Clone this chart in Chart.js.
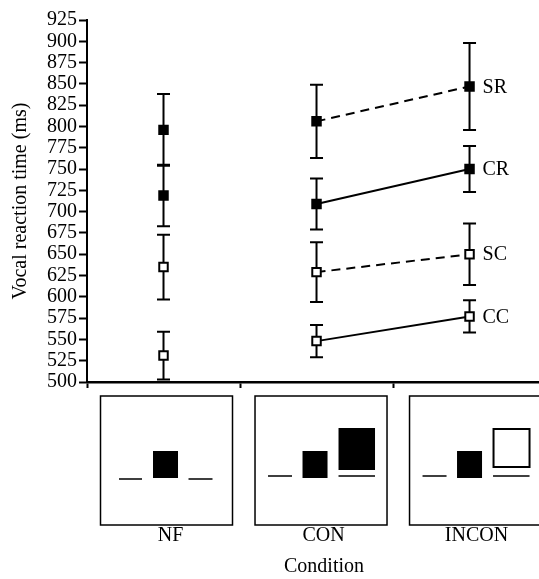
<!DOCTYPE html>
<html><head><meta charset="utf-8">
<script src="https://cdn.jsdelivr.net/npm/chart.js@4.4.0/dist/chart.umd.min.js"></script>
<style>html,body{margin:0;padding:0;background:#fff;} #wrap{width:539px;height:579px;position:relative;}</style>
</head><body><div id="wrap"><canvas id="c" width="539" height="579"></canvas></div>
<script>
// ---- data ----
const conditions = ['NF', 'CON', 'INCON'];
const seriesNames = ['SR', 'CR', 'SC', 'CC'];
const srValues = [796, 806, 847];
const srErrors = [42, 43, 51];
const crValues = [719, 709, 750];
const crErrors = [36, 30, 27];
const scValues = [635, 629, 650];
const scErrors = [38, 35, 36];
const ccValues = [531, 548, 577];
const ccErrors = [28, 19, 19];
const yTickValues = [500, 525, 550, 575, 600, 625, 650, 675, 700, 725, 750, 775, 800, 825, 850, 875, 900, 925];
const xAxisTitle = 'Condition';

const FONT = "'Liberation Serif', 'DejaVu Serif', serif";

function toPoints(vals) { return vals.map((v, i) => ({ x: i + 1, y: v })); }

function makeSet(name, vals, errs, filled, dashed) {
  return {
    label: name,
    data: toPoints(vals),
    errors: errs,
    borderColor: '#000',
    borderWidth: 2,
    borderDash: dashed ? [9, 6] : [],
    backgroundColor: filled ? '#000' : '#fff',
    pointBackgroundColor: filled ? '#000' : '#fff',
    pointBorderColor: '#000',
    pointBorderWidth: 2,
    pointStyle: 'rect',
    pointRadius: 6,
    pointHoverRadius: 6,
    fill: false,
    tension: 0,
    clip: false,
    segment: {
      borderColor: ctx => ctx.p0DataIndex === 0 ? 'rgba(0,0,0,0)' : '#000'
    }
  };
}

const datasets = [
  makeSet(seriesNames[0], srValues, srErrors, true, true),
  makeSet(seriesNames[1], crValues, crErrors, true, false),
  makeSet(seriesNames[2], scValues, scErrors, false, true),
  makeSet(seriesNames[3], ccValues, ccErrors, false, false)
];

const errorBarPlugin = {
  id: 'errorBars',
  beforeDatasetsDraw(chart) {
    const ctx = chart.ctx;
    const xs = chart.scales.x, ys = chart.scales.y;
    ctx.save();
    ctx.strokeStyle = '#000';
    ctx.lineWidth = 2;
    ctx.setLineDash([]);
    chart.data.datasets.forEach(ds => {
      ds.data.forEach((p, i) => {
        const e = ds.errors[i];
        const px = xs.getPixelForValue(p.x);
        const yt = ys.getPixelForValue(p.y + e);
        const yb = ys.getPixelForValue(p.y - e);
        ctx.beginPath();
        ctx.moveTo(px, yt); ctx.lineTo(px, yb);
        ctx.moveTo(px - 6.5, yt); ctx.lineTo(px + 6.5, yt);
        ctx.moveTo(px - 6.5, yb); ctx.lineTo(px + 6.5, yb);
        ctx.stroke();
      });
    });
    ctx.restore();
  }
};

const decorPlugin = {
  id: 'decor',
  afterDraw(chart) {
    const ctx = chart.ctx;
    const xs = chart.scales.x, ys = chart.scales.y;
    const b = chart.chartArea.bottom;
    ctx.save();
    // series labels at last point
    ctx.fillStyle = '#000';
    ctx.font = '20px ' + FONT;
    ctx.textBaseline = 'middle';
    ctx.textAlign = 'left';
    chart.data.datasets.forEach(ds => {
      const last = ds.data[ds.data.length - 1];
      ctx.fillText(ds.label, xs.getPixelForValue(last.x) + 13, ys.getPixelForValue(last.y) + 1);
    });
    // x-axis title, centred under the middle panel
    ctx.textAlign = 'center';
    ctx.fillText(xAxisTitle, xs.getPixelForValue(2) + 7.5, b + 185);
    // stimulus panels
    conditions.forEach((c, i) => {
      const cx = xs.getPixelForValue(i + 1) + 3 + i * 1.5;
      ctx.strokeStyle = '#000';
      ctx.lineWidth = 1.5;
      ctx.strokeRect(cx - 66, b + 14, 132, 129);
      ctx.lineWidth = 1.5;
      if (i === 0) {
        ctx.beginPath();
        ctx.moveTo(cx - 47.5, b + 97); ctx.lineTo(cx - 24.5, b + 97);
        ctx.moveTo(cx + 22, b + 97); ctx.lineTo(cx + 46, b + 97);
        ctx.stroke();
        ctx.fillRect(cx - 13.5, b + 69, 25, 27);
      } else {
        ctx.beginPath();
        ctx.moveTo(cx - 53, b + 94); ctx.lineTo(cx - 29, b + 94);
        ctx.moveTo(cx + 17.5, b + 94); ctx.lineTo(cx + 54, b + 94);
        ctx.stroke();
        ctx.fillRect(cx - 18.5, b + 69, 25, 27);
        if (i === 1) {
          ctx.fillRect(cx + 17.5, b + 46, 36.5, 42);
        } else {
          ctx.lineWidth = 2;
          ctx.strokeRect(cx + 18, b + 47, 36, 38);
        }
      }
    });
    ctx.restore();
  }
};

new Chart(document.getElementById('c'), {
  type: 'line',
  data: { datasets },
  plugins: [errorBarPlugin, decorPlugin],
  options: {
    responsive: false,
    animation: false,
    devicePixelRatio: 1,
    layout: { autoPadding: false, padding: { top: 20, right: 0, bottom: 0, left: 0 } },
    plugins: { legend: { display: false }, tooltip: { enabled: false } },
    scales: {
      x: {
        type: 'linear',
        position: 'bottom',
        min: 0.5,
        max: 3.454,
        afterBuildTicks: s => { s.ticks = [0.5, 1, 1.5, 2, 2.5, 3].map(v => ({ value: v })); },
        afterFit: s => { s.height = 197; s.paddingLeft = 0; s.paddingRight = 0; },
        ticks: {
          autoSkip: false,
          maxRotation: 0,
          padding: 136,
          labelOffset: 7,
          color: '#000',
          font: { family: FONT, size: 20 },
          callback: v => Number.isInteger(v) ? conditions[v - 1] : ''
        },
        grid: {
          drawOnChartArea: false,
          drawTicks: true,
          tickLength: 6,
          tickWidth: 2,
          tickColor: ctx => (ctx.tick && Number.isInteger(ctx.tick.value)) ? 'rgba(0,0,0,0)' : '#000'
        },
        border: { display: true, color: '#000', width: 2.5 },
        title: { display: false, text: xAxisTitle }
      },
      y: {
        type: 'linear',
        min: 500,
        max: 925,
        afterBuildTicks: s => { s.ticks = yTickValues.map(v => ({ value: v })); },
        afterFit: s => { s.width = 87; },
        ticks: {
          autoSkip: false,
          padding: 2,
          color: '#000',
          font: { family: FONT, size: 20 },
          callback: v => String(v)
        },
        grid: {
          drawOnChartArea: false,
          drawTicks: true,
          tickLength: 8,
          tickWidth: 2,
          tickColor: '#000'
        },
        border: { display: true, color: '#000', width: 2 },
        title: {
          display: true,
          text: 'Vocal reaction time (ms)',
          color: '#000',
          font: { family: FONT, size: 20 },
          padding: { top: 9, bottom: 0 }
        }
      }
    }
  }
});
</script>
</body></html>
